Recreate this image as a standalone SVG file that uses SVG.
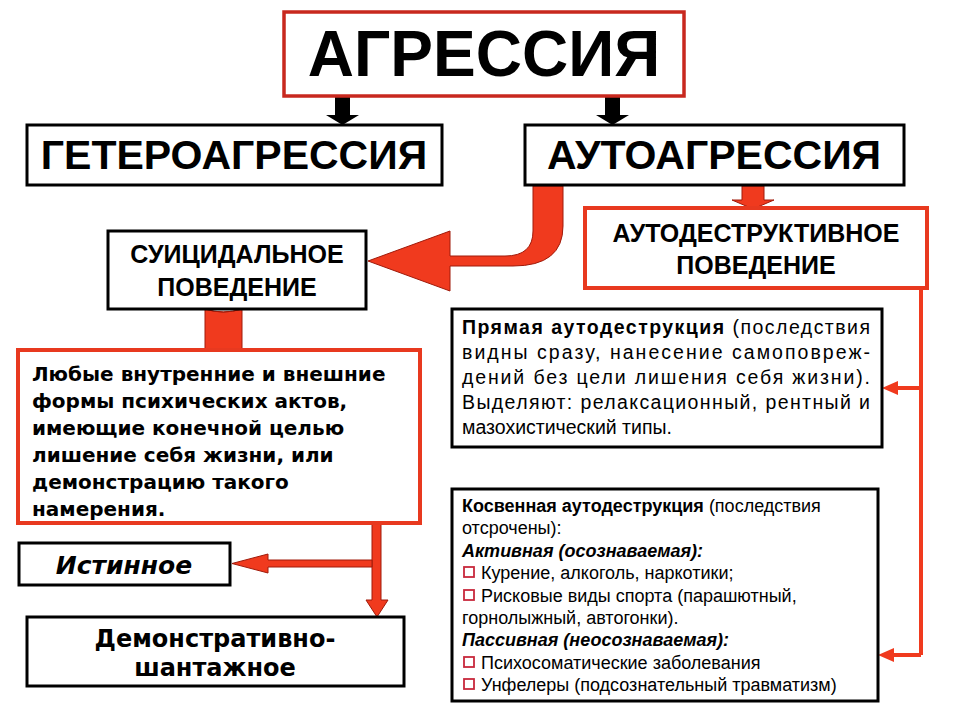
<svg xmlns="http://www.w3.org/2000/svg" width="960" height="720" viewBox="0 0 960 720">
<style>
text{font-family:"Liberation Sans",Arial,sans-serif;fill:#000}
.b{font-weight:bold}
.v{font-family:"DejaVu Sans",Verdana,sans-serif}
.bx{fill:#fff;stroke:#000;stroke-width:3}
.rb{fill:#fff;stroke:#e8391f;stroke-width:4}
.red{fill:#f03a1e;stroke:#a01a0a;stroke-width:1}
.chk{fill:#fff;stroke:#c8283c;stroke-width:1.8}
</style>
<rect width="960" height="720" fill="#fff"/>
<g id="connectors">
  <path d="M335 96h15v19h9l-16.5 10l-16.5-10h9z" fill="#000"/>
  <path d="M605 96h15v19h9l-16.5 10l-16.5-10h9z" fill="#000"/>
  <path class="red" d="M742 186h22v14h10l-21 9l-21-9h10z"/>
  <path class="red" d="M533 186h30v40q0 40-50 40h-63v25l-82-30l82-30v25h55q28 0 28-25z"/>
  <path class="red" d="M205 309q18 6 37 0v43q-18 6-37 0z"/>
  <path d="M205 309q18 6 37 0" fill="none" stroke="#a01a0a"/>
  <path class="red" d="M372 523h9v77h7l-11 17l-11-17h6z"/>
  <path class="red" d="M372 560v7h-104v6l-36-9.5l36-9.5v6z"/>
  <path d="M921 288v367" fill="none" stroke="#f03a1e" stroke-width="4"/>
  <path d="M921 388h-25M921 655h-28" fill="none" stroke="#f03a1e" stroke-width="4"/>
  <path d="M882 388l16-7v14z M878 655l16-7v14z" fill="#f03a1e"/>
</g>
<g id="n-agr"><rect x="284" y="12" width="400" height="84" fill="#fff" stroke="#c8281e" stroke-width="3.5"/>
<text class="b" x="484" y="76" font-size="64" text-anchor="middle">АГРЕССИЯ</text></g>
<g id="n-hetero"><rect class="bx" x="27" y="125" width="415" height="60"/>
<text class="b" x="234" y="169" font-size="41" text-anchor="middle">ГЕТЕРОАГРЕССИЯ</text></g>
<g id="n-auto"><rect class="bx" x="525" y="125" width="379" height="60"/>
<text class="b" x="714" y="169" font-size="41" text-anchor="middle">АУТОАГРЕССИЯ</text></g>
<g id="n-suic"><rect class="bx" x="108" y="231" width="258" height="78"/>
<text class="b" font-size="25" text-anchor="middle"><tspan x="237" y="263">СУИЦИДАЛЬНОЕ</tspan><tspan x="237" y="296">ПОВЕДЕНИЕ</tspan></text></g>
<g id="n-autodestr"><rect class="rb" x="585" y="208" width="342" height="80"/>
<text class="b" font-size="25" text-anchor="middle"><tspan x="756" y="242">АУТОДЕСТРУКТИВНОЕ</tspan><tspan x="756" y="274">ПОВЕДЕНИЕ</tspan></text></g>
<g id="n-def"><rect class="rb" x="18" y="350" width="402" height="173"/>
<text class="b v" font-size="20"><tspan x="32" y="381">Любые внутренние и внешние</tspan><tspan x="32" y="408">формы психических актов,</tspan><tspan x="32" y="435">имеющие конечной целью</tspan><tspan x="32" y="462">лишение себя жизни, или</tspan><tspan x="32" y="489">демонстрацию такого</tspan><tspan x="32" y="516">намерения.</tspan></text></g>
<g id="n-ist"><rect class="bx" x="19" y="543" width="211" height="42"/>
<text class="b v" x="124" y="574" font-size="25" font-style="italic" text-anchor="middle">Истинное</text></g>
<g id="n-dem"><rect class="bx" x="27" y="617" width="377" height="69"/>
<text class="b v" font-size="24" text-anchor="middle"><tspan x="215" y="647">Демонстративно-</tspan><tspan x="215" y="676">шантажное</tspan></text></g>
<g id="n-direct"><rect class="bx" x="452" y="309" width="430" height="138"/>
<text font-size="19.5"><tspan x="462" y="334" textLength="408" lengthAdjust="spacing"><tspan font-weight="bold">Прямая аутодеструкция</tspan> (последствия</tspan><tspan x="462" y="359" textLength="408" lengthAdjust="spacing">видны сразу, нанесение самоповреж-</tspan><tspan x="462" y="384" textLength="408" lengthAdjust="spacing">дений без цели лишения себя жизни).</tspan><tspan x="462" y="409" textLength="408" lengthAdjust="spacing">Выделяют: релаксационный, рентный и</tspan><tspan x="462" y="434">мазохистический типы.</tspan></text></g>
<g id="n-indirect"><rect class="bx" x="452" y="489" width="426" height="212"/>
<text font-size="18"><tspan x="462" y="512"><tspan font-weight="bold">Косвенная аутодеструкция</tspan> (последствия</tspan><tspan x="462" y="534">отсрочены):</tspan><tspan x="462" y="557" font-weight="bold" font-style="italic">Активная (осознаваемая):</tspan><tspan x="481" y="579">Курение, алкоголь, наркотики;</tspan><tspan x="481" y="602">Рисковые виды спорта (парашютный,</tspan><tspan x="462" y="624">горнолыжный, автогонки).</tspan><tspan x="462" y="646" font-weight="bold" font-style="italic">Пассивная (неосознаваемая):</tspan><tspan x="481" y="669">Психосоматические заболевания</tspan><tspan x="481" y="691">Унфелеры (подсознательный травматизм)</tspan></text>
<rect class="chk" x="464" y="567" width="10" height="10"/><rect class="chk" x="464" y="590" width="10" height="10"/><rect class="chk" x="464" y="657" width="10" height="10"/><rect class="chk" x="464" y="679" width="10" height="10"/></g>
</svg>
